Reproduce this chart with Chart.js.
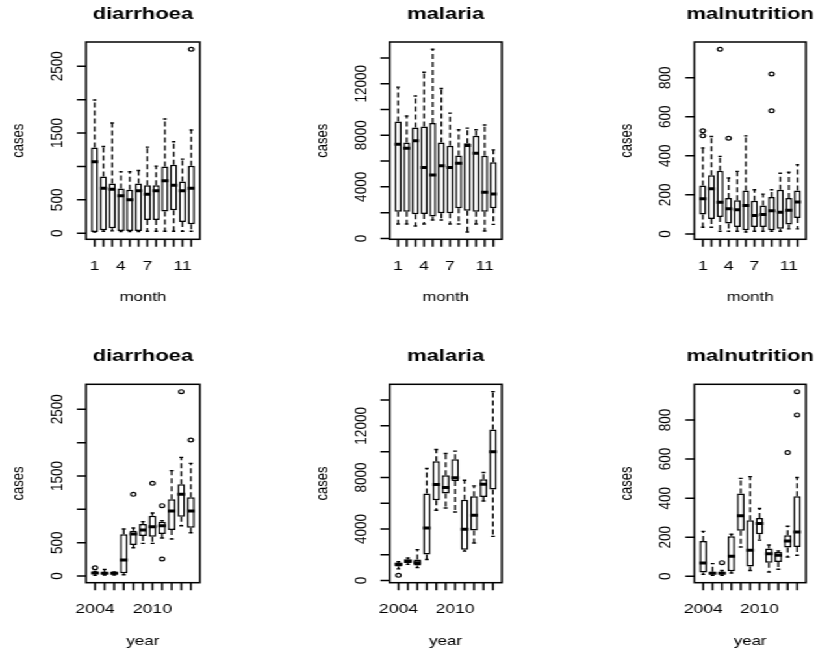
<!DOCTYPE html>
<html>
<head>
<meta charset="utf-8">
<script src="https://cdn.jsdelivr.net/npm/chart.js@4/dist/chart.umd.min.js"></script>
<style>
  html, body { margin: 0; padding: 0; background: #fff; overflow: hidden; }
  /* the reference is a stretched R picture: draw narrow, then widen */
  #page { position: absolute; left: 0; top: 0; width: 628px; height: 650px;
          transform: scaleX(1.2994); transform-origin: 0 0; }
  #page canvas { position: absolute; left: 0; top: 0; }
</style>
</head>
<body>
<div id="page">
  <canvas id="c0" width="628" height="650"></canvas>
  <canvas id="c1" width="628" height="650"></canvas>
  <canvas id="c2" width="628" height="650"></canvas>
  <canvas id="c3" width="628" height="650"></canvas>
  <canvas id="c4" width="628" height="650"></canvas>
  <canvas id="c5" width="628" height="650"></canvas>
</div>
<script>
// categories and tick labels
const months = [1, 2, 3, 4, 5, 6, 7, 8, 9, 10, 11, 12];
const years = [2004, 2005, 2006, 2007, 2008, 2009, 2010, 2011, 2012, 2013, 2014];
const monthLabels = [1, 4, 7, 11];
const yearLabels = [2004, 2010];

const diarYTicks = [0, 500, 1000, 1500, 2000, 2500];
const diarYLabels = [0, 500, 1500, 2500];
const malYTicks = [0, 2000, 4000, 6000, 8000, 10000, 12000, 14000];
const malYLabels = [0, 4000, 8000, 12000];
const malnYTicks = [0, 200, 400, 600, 800];
const malnYLabels = [0, 200, 400, 600, 800];

// diarrhoea by month
const diarMonLo  = [19, 30, 35, 25, 25, 25, 30, 30, 30, 30, 30, 30];
const diarMonQ1  = [20, 45, 75, 35, 35, 35, 200, 200, 325, 345, 170, 135];
const diarMonMed = [1070, 675, 660, 560, 500, 635, 585, 635, 785, 720, 635, 675];
const diarMonQ3  = [1285, 850, 745, 670, 650, 745, 720, 720, 1000, 1025, 775, 1010];
const diarMonHi  = [1995, 1300, 1650, 920, 920, 940, 1290, 1005, 1710, 1370, 1110, 1545];
const diarMonOutX = [12];
const diarMonOutY = [2754];

// malaria by month
const malMonLo  = [1115, 1115, 960, 1115, 1430, 1430, 1115, 1115, 497, 1115, 570, 1090];
const malMonQ1  = [2075, 2075, 1870, 1895, 1690, 1945, 1945, 2335, 2150, 2075, 2075, 2335];
const malMonMed = [7315, 7000, 7575, 5500, 4930, 5630, 5500, 5835, 7210, 6615, 3580, 3450];
const malMonQ3  = [9080, 7445, 8610, 8690, 8950, 7445, 7185, 6430, 7390, 7965, 6410, 5915];
const malMonHi  = [11740, 9500, 11050, 12900, 14677, 11640, 9720, 8430, 8560, 8430, 8800, 6870];
const malMonOutX = [];
const malMonOutY = [];

// malnutrition by month
const malnMonLo  = [34, 34, 14, 14, 14, 10, 14, 14, 14, 14, 26, 26];
const malnMonQ1  = [99, 77, 87, 53, 36, 19, 36, 36, 19, 26, 48, 82];
const malnMonMed = [180, 231, 162, 129, 124, 146, 95, 99, 119, 111, 121, 163];
const malnMonQ3  = [248, 300, 323, 184, 172, 223, 170, 145, 189, 226, 184, 223];
const malnMonHi  = [440, 499, 397, 286, 320, 502, 226, 204, 226, 311, 316, 354];
const malnMonOutX = [1, 1, 3, 4, 9, 9];
const malnMonOutY = [528, 502, 945, 490, 819, 630];

// diarrhoea by year
const diarYrLo  = [10, 15, 15, 20, 425, 490, 490, 570, 555, 755, 650];
const diarYrQ1  = [35, 30, 30, 40, 465, 600, 590, 630, 690, 890, 725];
const diarYrMed = [45, 40, 40, 240, 630, 690, 740, 755, 975, 1225, 975];
const diarYrQ3  = [55, 50, 50, 625, 680, 780, 905, 815, 1150, 1375, 1180];
const diarYrHi  = [70, 100, 60, 705, 720, 815, 945, 830, 1580, 1780, 1690];
const diarYrOutX = [2004, 2008, 2010, 2011, 2011, 2013, 2014];
const diarYrOutY = [125, 1225, 1390, 1055, 255, 2765, 2040];

// malaria by year
const malYrLo  = [900, 1250, 1000, 1630, 5450, 5630, 5320, 2280, 2905, 6175, 3425];
const malYrQ1  = [1090, 1350, 1165, 2025, 6225, 6745, 7730, 2385, 3890, 6485, 7055];
const malYrMed = [1270, 1505, 1375, 4070, 7445, 7210, 7965, 3970, 5060, 7470, 9985];
const malYrQ3  = [1375, 1630, 1630, 6745, 9260, 8170, 9415, 6275, 6535, 7860, 11725];
const malYrHi  = [1450, 1750, 2400, 8690, 10170, 9860, 10040, 7780, 7340, 8380, 14655];
const malYrOutX = [2004];
const malYrOutY = [400];

// malnutrition by year
const malnYrLo  = [10, 5, 5, 17, 150, 30, 185, 22, 36, 99, 108];
const malnYrQ1  = [19, 10, 10, 26, 233, 50, 215, 70, 73, 147, 150];
const malnYrMed = [68, 16, 16, 103, 310, 133, 270, 116, 108, 181, 227];
const malnYrQ3  = [181, 24, 24, 205, 424, 287, 299, 142, 125, 210, 410];
const malnYrHi  = [230, 65, 30, 215, 501, 510, 347, 160, 130, 256, 506];
const malnYrOutX = [2006, 2013, 2014, 2014];
const malnYrOutY = [70, 633, 945, 826];

const PAGE_W = 628, PAGE_H = 650;
const FONT = '"Liberation Sans", Arial, Helvetica, sans-serif';

// plot rectangles in unstretched page px
const cols = [[66.2, 153.8], [299.8, 386.2], [534.4, 620.2]];
const rows = [[42, 239.3], [384.3, 582.7]];

// R style box, ticks and text
const rAxes = {
  id: 'rAxes',
  afterDraw(chart, args, o) {
    const {ctx, chartArea: a, scales: {x, y}} = chart;
    ctx.save();
    ctx.strokeStyle = '#000';
    ctx.fillStyle = '#000';
    ctx.lineWidth = 1.5;
    ctx.strokeRect(a.left, a.top, a.right - a.left, a.bottom - a.top);

    ctx.beginPath();
    o.cats.forEach((c, i) => {
      const px = x.getPixelForValue(i + 1);
      ctx.moveTo(px, a.bottom);
      ctx.lineTo(px, a.bottom + 7.5);
    });
    o.yTicks.forEach(v => {
      const py = y.getPixelForValue(v);
      ctx.moveTo(a.left, py);
      ctx.lineTo(a.left - 7, py);
    });
    ctx.stroke();

    ctx.font = '13.5px ' + FONT;
    ctx.textAlign = 'center';
    ctx.textBaseline = 'alphabetic';
    o.xLabels.forEach(c => {
      const px = x.getPixelForValue(o.cats.indexOf(c) + 1);
      ctx.fillText(String(c), px, a.bottom + 30.5);
    });
    o.yLabels.forEach(v => {
      ctx.save();
      ctx.translate(a.left - 18, y.getPixelForValue(v));
      ctx.rotate(-Math.PI / 2);
      ctx.fillText(String(v), 0, 0);
      ctx.restore();
    });

    const cx = (a.left + a.right) / 2;
    ctx.font = '13px ' + FONT;
    ctx.fillText(o.xlab, cx, a.bottom + 62);
    ctx.save();
    ctx.translate(a.left - 48, (a.top + a.bottom) / 2);
    ctx.rotate(-Math.PI / 2);
    ctx.fillText(o.ylab, 0, 0);
    ctx.restore();

    ctx.font = 'bold 17px ' + FONT;
    ctx.fillText(o.title, cx, a.top - 23);
    ctx.restore();
  }
};

function boxPanel(id, col, row, title, xlab, cats, xLabels, yTicks, yLabels,
                  lo, q1, med, q3, hi, outX, outY) {
  const n = cats.length;
  const pos = cats.map((c, i) => i + 1);
  const boxes = pos.map((x, i) => ({x, y: [q1[i], q3[i]]}));
  const medians = pos.map((x, i) => ({x, y: med[i]}));
  const whiskers = [];
  const staples = [];
  pos.forEach((x, i) => {
    whiskers.push({x, y: q3[i]}, {x, y: hi[i]}, {x, y: null},
                  {x, y: q1[i]}, {x, y: lo[i]}, {x, y: null});
    staples.push({x, y: hi[i]}, {x, y: lo[i]});
  });
  const outliers = outX.map((c, i) => ({x: cats.indexOf(c) + 1, y: outY[i]}));

  // R default limits: data range plus 4 %
  const all = lo.concat(hi, outY);
  const yMin = Math.min(...all), yMax = Math.max(...all);
  const ext = 0.04 * (yMax - yMin);

  const halfWidth = f => ctx => {
    const s = ctx.chart.scales.x;
    return Math.abs(s.getPixelForValue(f) - s.getPixelForValue(0));
  };

  const [L, R] = cols[col];
  const [T, B] = rows[row];

  new Chart(document.getElementById(id), {
    type: 'bar',
    data: {
      datasets: [
        {
          type: 'bar', data: boxes, order: 5,
          backgroundColor: '#fff', borderColor: '#000', borderWidth: 1.5,
          borderSkipped: false, barPercentage: 0.8, categoryPercentage: 1
        },
        {
          type: 'line', data: whiskers, order: 4,
          borderColor: '#000', borderWidth: 1.3, borderDash: [5, 3],
          pointRadius: 0, spanGaps: false, fill: false
        },
        {
          type: 'scatter', data: staples, order: 3,
          pointStyle: 'line', pointRadius: halfWidth(0.2),
          pointBorderColor: '#000', pointBorderWidth: 1.4
        },
        {
          type: 'scatter', data: outliers, order: 2,
          pointStyle: 'circle', pointRadius: 1.9,
          pointBorderColor: '#000', pointBorderWidth: 1.2,
          pointBackgroundColor: 'rgba(0,0,0,0)'
        },
        {
          type: 'scatter', data: medians, order: 1,
          pointStyle: 'line', pointRadius: halfWidth(0.4),
          pointBorderColor: '#000', pointBorderWidth: 3
        }
      ]
    },
    options: {
      responsive: false,
      animation: false,
      events: [],
      layout: { padding: { left: L, top: T, right: PAGE_W - R, bottom: PAGE_H - B } },
      scales: {
        x: { type: 'linear', display: false, offset: false,
             min: 0.5 - 0.04 * n, max: n + 0.5 + 0.04 * n },
        y: { type: 'linear', display: false, min: yMin - ext, max: yMax + ext }
      },
      plugins: {
        legend: { display: false },
        tooltip: { enabled: false },
        rAxes: { title, xlab, ylab: 'cases', cats, xLabels, yTicks, yLabels }
      }
    },
    plugins: [rAxes]
  });
}

boxPanel('c0', 0, 0, 'diarrhoea', 'month', months, monthLabels, diarYTicks, diarYLabels,
         diarMonLo, diarMonQ1, diarMonMed, diarMonQ3, diarMonHi, diarMonOutX, diarMonOutY);
boxPanel('c1', 1, 0, 'malaria', 'month', months, monthLabels, malYTicks, malYLabels,
         malMonLo, malMonQ1, malMonMed, malMonQ3, malMonHi, malMonOutX, malMonOutY);
boxPanel('c2', 2, 0, 'malnutrition', 'month', months, monthLabels, malnYTicks, malnYLabels,
         malnMonLo, malnMonQ1, malnMonMed, malnMonQ3, malnMonHi, malnMonOutX, malnMonOutY);
boxPanel('c3', 0, 1, 'diarrhoea', 'year', years, yearLabels, diarYTicks, diarYLabels,
         diarYrLo, diarYrQ1, diarYrMed, diarYrQ3, diarYrHi, diarYrOutX, diarYrOutY);
boxPanel('c4', 1, 1, 'malaria', 'year', years, yearLabels, malYTicks, malYLabels,
         malYrLo, malYrQ1, malYrMed, malYrQ3, malYrHi, malYrOutX, malYrOutY);
boxPanel('c5', 2, 1, 'malnutrition', 'year', years, yearLabels, malnYTicks, malnYLabels,
         malnYrLo, malnYrQ1, malnYrMed, malnYrQ3, malnYrHi, malnYrOutX, malnYrOutY);
</script>
</body>
</html>
